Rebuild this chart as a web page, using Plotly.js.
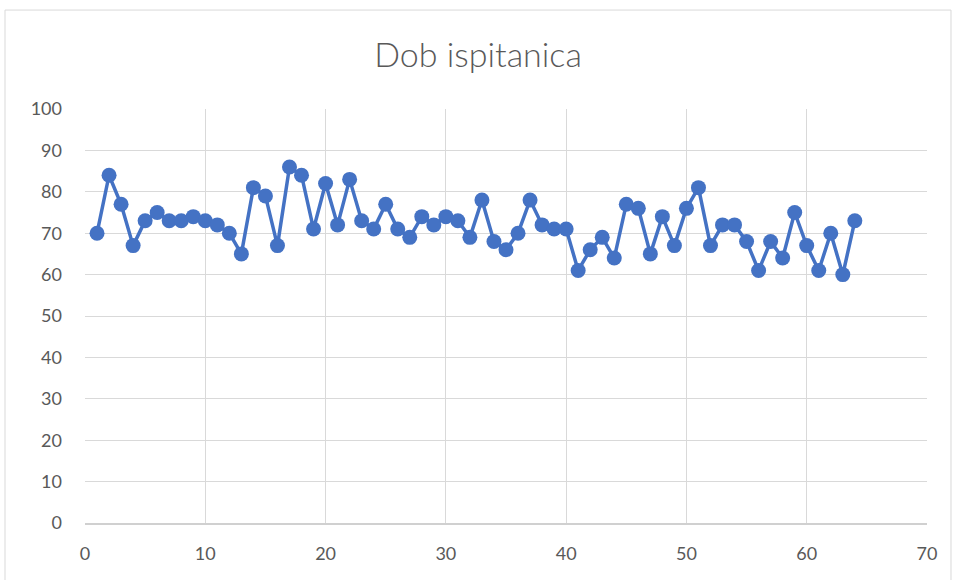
<!DOCTYPE html>
<html>
<head>
<meta charset="utf-8">
<script src="https://cdn.plot.ly/plotly-3.0.1.min.js"></script>
<style>
html,body{margin:0;padding:0;background:#fff;}
#chart{width:956px;height:580px;}
</style>
</head>
<body>
<div id="chart"></div>
<script>
const xValues = [1,2,3,4,5,6,7,8,9,10,11,12,13,14,15,16,17,18,19,20,21,22,23,24,25,26,27,28,29,30,31,32,33,34,35,36,37,38,39,40,41,42,43,44,45,46,47,48,49,50,51,52,53,54,55,56,57,58,59,60,61,62,63,64];
const yValues = [70,84,77,67,73,75,73,73,74,73,72,70,65,81,79,67,86,84,71,82,72,83,73,71,77,71,69,74,72,74,73,69,78,68,66,70,78,72,71,71,61,66,69,64,77,76,65,74,67,76,81,67,72,72,68,61,68,64,75,67,61,70,60,73];
const titleText = "Dob ispitanica";
const xTicks = [0,10,20,30,40,50,60,70];
const yTicks = [0,10,20,30,40,50,60,70,80,90,100];

const trace = {
  x: xValues, y: yValues, type: 'scatter', mode: 'lines+markers',
  line: {color: '#4472C4', width: 3.5},
  marker: {color: '#4472C4', size: 15},
  hoverinfo: 'x+y'
};
const layout = {
  width: 956, height: 580,
  margin: {l: 85, r: 29, t: 109, b: 57},
  paper_bgcolor: '#ffffff', plot_bgcolor: '#ffffff',
  showlegend: false,
  font: {family: 'Lato, "Open Sans", sans-serif', color: '#595959', size: 18},
  title: {text: titleText, x: 0.5, xanchor: 'center', y: 0.905, yanchor: 'middle',
          font: {family: 'Lato, "Open Sans", sans-serif', size: 34, color: '#595959', weight: 300}},
  xaxis: {range: [0, 70], tickvals: xTicks, ticktext: xTicks.map(String),
          showgrid: true, gridcolor: '#d9d9d9', gridwidth: 1, zeroline: false,
          showline: true, linecolor: '#d0d0d0', linewidth: 1.5, ticks: '', ticklabelstandoff: 14, fixedrange: true,
          tickfont: {size: 18, color: '#595959'}},
  yaxis: {range: [0, 100], tickvals: yTicks, ticktext: yTicks.map(String),
          showgrid: true, gridcolor: '#d9d9d9', gridwidth: 1, zeroline: false,
          showline: false, ticks: '', ticklabelstandoff: 22, fixedrange: true,
          tickfont: {size: 18, color: '#595959'}},
  shapes: [{type: 'rect', xref: 'paper', yref: 'paper',
            x0: -0.095, x1: 1.0285, y0: -0.2, y1: 1.239,
            line: {color: '#d9d9d9', width: 1}, fillcolor: 'rgba(0,0,0,0)', layer: 'below'}]
};
Plotly.newPlot('chart', [trace], layout, {displayModeBar: false, staticPlot: true});
</script>
</body>
</html>
